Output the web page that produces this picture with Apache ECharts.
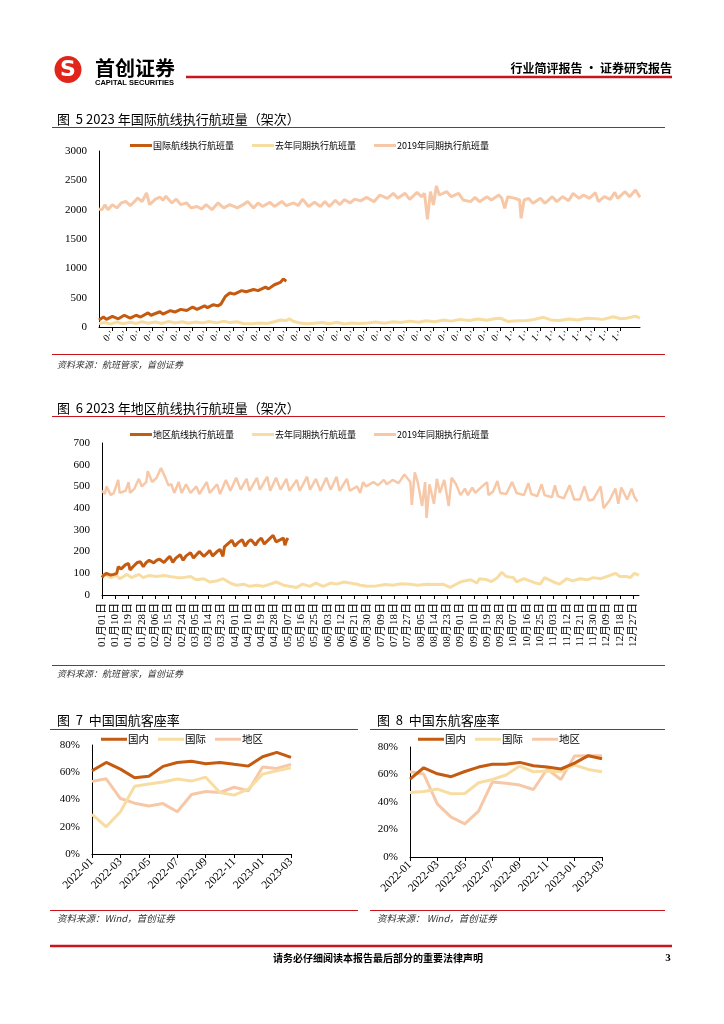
<!DOCTYPE html>
<html><head><meta charset="utf-8">
<script src="https://cdn.jsdelivr.net/npm/echarts@6/dist/echarts.min.js"></script>
<style>html,body{margin:0;padding:0;background:#fff}#c{width:724px;height:1024px}</style>
</head><body><div id="c"></div>
<script>
// ---------- data ----------
const monthDays = [31,28,31,30,31,30,31,31,30,31,30,31];
const pad = n => (n < 10 ? '0' : '') + n;
const dates2023 = [];
monthDays.forEach((n, m) => { for (let d = 1; d <= n; d++) dates2023.push(pad(m + 1) + '月' + pad(d) + '日'); });

const intl2023 = [[0,120],[3,170],[5,130],[9,180],[13,140],[17,200],[21,150],[25,200],[28,170],[33,240],[35,200],[41,260],[43,220],[48,280],[51,255],[55,300],[59,280],[63,340],[66,300],[71,360],[73,330],[77,380],[80,360],[82,390],[83,360],[85,520],[88,580],[91,560],[96,620],[99,600],[104,640],[107,620],[112,680],[114,650],[118,720],[122,760],[124,820],[126,780]];
const intlLastYear = [[0,60],[4,75],[8,50],[12,85],[16,55],[21,80],[25,60],[29,90],[33,65],[38,85],[42,60],[47,95],[51,70],[56,90],[60,65],[65,85],[70,70],[74,95],[79,70],[84,100],[88,75],[93,90],[97,60],[103,55],[108,70],[113,60],[118,90],[122,120],[126,110],[128,140],[131,95],[135,70],[140,55],[145,65],[150,75],[155,55],[160,80],[165,50],[170,70],[175,60],[181,70],[186,85],[192,65],[198,90],[203,75],[209,100],[215,80],[220,105],[226,90],[232,120],[237,100],[243,130],[249,110],[255,135],[261,115],[266,140],[270,150],[275,95],[281,105],[288,110],[293,130],[299,165],[304,120],[310,110],[316,135],[322,120],[328,150],[333,145],[339,130],[346,175],[351,140],[355,150],[361,185],[364,150]];
const intl2019 = [[0,2010],[2,2000],[4,2085],[6,2000],[9,2085],[12,2030],[15,2115],[18,2140],[21,2070],[24,2140],[26,2200],[29,2140],[32,2285],[34,2085],[38,2180],[41,2215],[43,2160],[45,2230],[49,2115],[52,2180],[55,2085],[59,2115],[62,2030],[66,2055],[69,2010],[72,2085],[76,2000],[80,2115],[84,2030],[88,2085],[93,2030],[97,2085],[100,2140],[104,2030],[107,2115],[110,2055],[115,2125],[118,2055],[123,2140],[126,2070],[131,2115],[134,2070],[137,2180],[141,2055],[145,2125],[149,2055],[152,2140],[155,2055],[159,2160],[162,2085],[165,2170],[169,2115],[172,2180],[176,2150],[180,2210],[185,2137],[189,2250],[194,2193],[198,2278],[201,2193],[206,2278],[209,2176],[214,2295],[217,2221],[219,2278],[221,1835],[223,2307],[225,2080],[227,2403],[229,2250],[234,2307],[237,2221],[242,2278],[245,2165],[250,2137],[253,2210],[256,2137],[261,2221],[264,2165],[269,2250],[271,2193],[273,2023],[275,2221],[280,2193],[283,2165],[284,1852],[286,2165],[289,2193],[292,2108],[297,2193],[300,2108],[305,2221],[308,2137],[312,2221],[316,2154],[319,2278],[323,2193],[326,2250],[330,2193],[334,2289],[336,2137],[340,2221],[344,2176],[347,2295],[349,2193],[354,2307],[357,2221],[361,2335],[364,2210]];

const reg2023 = [[0,80],[1,90],[3,100],[6,92],[8,95],[10,100],[11,130],[13,120],[16,140],[18,145],[19,115],[21,130],[24,150],[26,153],[28,130],[30,150],[32,160],[35,148],[37,160],[39,165],[42,150],[44,165],[46,178],[48,150],[50,170],[53,185],[55,160],[57,180],[60,195],[62,170],[64,185],[66,200],[69,178],[71,190],[73,205],[75,180],[78,200],[80,210],[82,178],[83,222],[86,240],[88,252],[90,225],[92,240],[95,255],[97,225],[99,245],[101,255],[104,230],[106,250],[108,262],[110,235],[113,255],[116,275],[118,245],[121,255],[123,262],[124,229],[125,250],[126,262]];
const regLastYear = [[0,85],[2,95],[6,80],[10,90],[12,75],[17,95],[20,80],[25,95],[28,80],[32,90],[37,85],[42,90],[46,85],[51,80],[55,80],[60,85],[64,70],[69,75],[73,60],[78,65],[82,75],[87,55],[91,45],[96,50],[100,40],[105,45],[109,40],[114,50],[118,60],[123,45],[127,40],[132,35],[136,50],[141,40],[145,55],[150,40],[155,55],[159,50],[164,60],[168,55],[173,50],[175,45],[180,40],[186,42],[192,48],[197,45],[203,52],[209,50],[214,45],[220,50],[226,48],[231,50],[236,35],[243,60],[246,65],[250,70],[254,55],[256,75],[261,70],[264,62],[268,80],[271,105],[274,85],[279,80],[281,60],[286,75],[290,65],[294,55],[297,50],[300,80],[306,60],[310,50],[315,75],[319,65],[324,75],[329,70],[333,80],[338,75],[342,85],[348,100],[351,85],[356,85],[358,80],[361,100],[364,90]];
const reg2019 = [[0,480],[2,465],[3,500],[6,460],[8,470],[11,530],[12,470],[16,480],[18,520],[19,470],[22,490],[25,535],[27,500],[30,520],[31,570],[34,520],[37,540],[40,585],[43,540],[45,505],[47,510],[49,470],[52,520],[54,470],[57,510],[60,470],[64,500],[66,465],[71,520],[73,470],[78,510],[80,465],[84,530],[87,480],[91,540],[94,485],[98,535],[100,480],[105,540],[107,485],[112,545],[114,480],[118,540],[121,485],[125,535],[127,480],[132,530],[134,480],[139,545],[141,485],[145,535],[148,480],[152,540],[155,485],[159,545],[161,480],[166,535],[168,480],[173,500],[175,470],[177,520],[179,500],[184,520],[187,505],[191,530],[193,510],[197,530],[201,515],[205,555],[209,520],[210,415],[212,565],[214,520],[217,410],[219,520],[220,355],[222,510],[225,420],[227,535],[229,470],[232,530],[235,410],[237,540],[240,510],[243,460],[246,490],[248,460],[251,495],[253,470],[256,490],[261,520],[262,460],[265,475],[268,525],[270,470],[274,465],[278,520],[281,470],[286,460],[289,515],[291,465],[295,455],[298,510],[300,460],[305,450],[307,505],[309,455],[313,445],[317,505],[320,440],[324,440],[327,500],[330,435],[333,440],[338,500],[340,400],[344,435],[348,490],[350,420],[352,495],[356,440],[359,490],[361,450],[363,430]];

const months = ['2022-01','2022-02','2022-03','2022-04','2022-05','2022-06','2022-07','2022-08','2022-09','2022-10','2022-11','2022-12','2023-01','2023-02','2023-03'];
const caDom  = [61.1,67.2,62.3,56,57,64.3,67.2,68,66.3,67.2,65.8,64.5,71.4,74.6,70.9];
const caIntl = [29,20,31,49.8,51.3,52.8,55,53.5,56.4,45.2,43.2,47.6,58.6,61.1,63.3];
const caReg  = [53.3,55.2,40.7,37.3,35.3,37,31,43.7,45.9,45.2,49,46.4,63.8,62.8,65.8];
const ceDom  = [56.7,64.9,60.5,58.4,62.2,65.4,67.4,67.4,68.8,66.4,65.4,64,68.3,73.7,71.5];
const ceIntl = [46.9,47.7,49.4,46,46.2,54,56.4,59.6,66.1,62,62.5,62,66.9,63.7,62];
const ceReg  = [62,60.3,38.4,29,24.1,33.3,54.5,53.7,52.3,49.1,64,56.4,73.4,73.7,73.7];

// ---------- style ----------
const DARK = '#C55A11', YEL = '#F8DDA2', PINK = '#F7C8A8', RED = '#C9151E';
const SERIF = '"Liberation Serif","Noto Sans CJK SC",serif';
const CJK = '"Noto Sans CJK SC",sans-serif';

function line(x1, y1, x2, y2, w, c) {
  return {type:'line', shape:{x1, y1, x2, y2}, style:{stroke:c || RED, lineWidth:w || 1.2}, silent:true};
}
function txt(x, y, t, size, opt) {
  return {type:'text', x, y, silent:true, style:Object.assign({text:t, fontSize:size, fill:'#000', fontFamily:CJK, textVerticalAlign:'middle'}, opt || {})};
}

const grids = [
  {left:99, top:151, width:541, height:176},
  {left:102, top:443, width:537, height:152},
  {left:92, top:745, width:199, height:109},
  {left:410, top:747, width:192, height:110}
];

const axLine = {show:true, lineStyle:{color:'#000', width:1}};
function dayAxis(gi, labelCfg) {
  return {type:'category', gridIndex:gi, data:dates2023, boundaryGap:false,
    axisLine:axLine, axisTick:{show:true, interval:8, length:4, lineStyle:{color:'#000'}},
    axisLabel:Object.assign({interval:8, color:'#000', fontFamily:SERIF, fontSize:10}, labelCfg), splitLine:{show:false}};
}
function monAxis(gi) {
  return {type:'category', gridIndex:gi, data:months, boundaryGap:false,
    axisLine:axLine, axisTick:{show:true, interval:1, length:4, lineStyle:{color:'#000'}},
    axisLabel:{interval:1, rotate:45, color:'#000', fontFamily:SERIF, fontSize:11.5, margin:6}, splitLine:{show:false}};
}
function valAxis(gi, max, interval, fmt) {
  return {type:'value', gridIndex:gi, min:0, max, interval, axisLine:axLine, axisTick:{show:false},
    splitLine:{show:false}, axisLabel:{color:'#000', fontFamily:SERIF, fontSize:11, margin:12, formatter:fmt}};
}
function ser(name, data, color, gi, width, z) {
  return {type:'line', name, data, xAxisIndex:gi, yAxisIndex:gi, showSymbol:false, symbol:'none',
    lineStyle:{color, width:width || 3}, itemStyle:{color}, z:z || 2, animation:false, silent:true};
}
function legend(left, top, names, fs, gap, iw) {
  return {left, top, data:names, icon:'rect', itemWidth:iw || 22, itemHeight:3, itemGap:gap,
    textStyle:{fontSize:fs, color:'#000', fontFamily:CJK, padding:[0,0,0,-4]}, selectedMode:false};
}
const plain = v => String(v);

const option = {
  backgroundColor:'#fff',
  animation:false,
  grid:grids,
  xAxis:[
    dayAxis(0, {rotate:45, margin:6, width:15, overflow:'truncate', ellipsis:'·\''}),
    dayAxis(1, {rotate:90, margin:8, fontSize:11}),
    monAxis(2), monAxis(3)
  ],
  yAxis:[
    valAxis(0, 3000, 500, plain), valAxis(1, 700, 100, plain),
    valAxis(2, 80, 20, '{value}%'), valAxis(3, 80, 20, '{value}%')
  ],
  legend:[
    legend(125, 136, ['国际航线执行航班量','去年同期执行航班量','2019年同期执行航班量'], 9, 18),
    legend(125, 425, ['地区航线执行航班量','去年同期执行航班量','2019年同期执行航班量'], 9, 18),
    legend(96, 729, ['国内','国际','地区'], 10.5, 9, 26),
    legend(413, 729, ['国内','国际','地区'], 10.5, 9, 26)
  ],
  series:[
    ser('2019年同期执行航班量', intl2019, PINK, 0, 3, 1),
    ser('去年同期执行航班量', intlLastYear, YEL, 0, 3, 2),
    ser('国际航线执行航班量', intl2023, DARK, 0, 3, 3),
    ser('2019年同期执行航班量', reg2019, PINK, 1, 2.5, 1),
    ser('去年同期执行航班量', regLastYear, YEL, 1, 3, 2),
    ser('地区航线执行航班量', reg2023, DARK, 1, 3, 3),
    ser('地区', caReg, PINK, 2, 3, 1),
    ser('国际', caIntl, YEL, 2, 3, 2),
    ser('国内', caDom, DARK, 2, 3, 3),
    ser('地区', ceReg, PINK, 3, 3, 1),
    ser('国际', ceIntl, YEL, 3, 3, 2),
    ser('国内', ceDom, DARK, 3, 3, 3)
  ],
  graphic:[
    // header
    {type:'circle', shape:{cx:68, cy:69.5, r:13.5}, style:{fill:'#E1251B'}, silent:true},
    txt(68, 70.5, 'S', 22, {fill:'#fff', fontWeight:'bold', textAlign:'center', fontFamily:'"DejaVu Sans",sans-serif'}),
    txt(95, 68, '首创证券', 20, {fontWeight:'bold'}),
    txt(95, 82.5, 'CAPITAL SECURITIES', 7.5, {fontWeight:'bold', fontFamily:'"Liberation Sans",sans-serif'}),
    line(186, 77, 672, 77, 2.5),
    txt(672, 68, '行业简评报告 · 证券研究报告', 12, {textAlign:'right', fontWeight:'bold'}),
    // chart 5
    txt(57, 119, '图  5 2023 年国际航线执行航班量（架次）', 13),
    line(52, 127.5, 665, 127.5, 1.2),
    line(52, 354.5, 665, 354.5, 1.2),
    txt(57, 365, '资料来源：航班管家，首创证券', 9, {fontStyle:'italic', fill:'#333'}),
    // chart 6
    txt(57, 408, '图  6 2023 年地区航线执行航班量（架次）', 13),
    line(52, 416.5, 665, 416.5, 1.2),
    line(52, 665.5, 665, 665.5, 1.2),
    txt(57, 674, '资料来源：航班管家，首创证券', 9, {fontStyle:'italic', fill:'#333'}),
    // chart 7
    txt(57, 720, '图  7  中国国航客座率', 13),
    line(50, 729.5, 358, 729.5, 1.2),
    line(50, 910.5, 358, 910.5, 1.2),
    txt(57, 918, '资料来源：Wind，首创证券', 9.5, {fontStyle:'italic', fill:'#333'}),
    // chart 8
    txt(377, 720, '图  8  中国东航客座率', 13),
    line(370, 729.5, 665, 729.5, 1.2),
    line(370, 910.5, 665, 910.5, 1.2),
    txt(377, 918, '资料来源： Wind，首创证券', 9.5, {fontStyle:'italic', fill:'#333'}),
    // footer
    line(50, 946, 672, 946, 2.5),
    txt(378, 958, '请务必仔细阅读本报告最后部分的重要法律声明', 10, {textAlign:'center', fontWeight:'bold'}),
    txt(668, 958, '3', 11, {textAlign:'center', fontFamily:SERIF, fontWeight:'bold'})
  ]
};
const chart = echarts.init(document.getElementById('c'), null, {renderer:'canvas'});
chart.setOption(option);
</script></body></html>
